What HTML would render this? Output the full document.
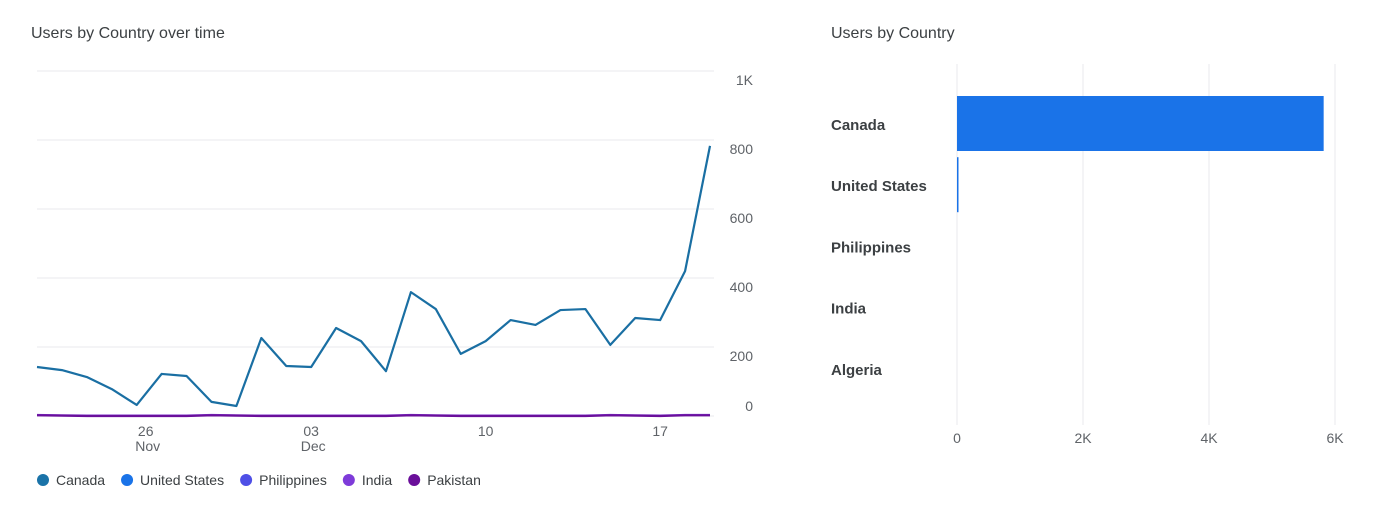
<!DOCTYPE html>
<html><head><meta charset="utf-8"><style>
body{margin:0;width:1384px;height:505px;background:#fff;font-family:"Liberation Sans",Arial,sans-serif;overflow:hidden}
svg{position:absolute;left:0;top:0}
</style></head><body>
<svg id="c" width="1384" height="505"></svg>
<script>
const lineDays=["22","23","24","25","26","27","28","29","30","01","02","03","04","05","06","07","08","09","10","11","12","13","14","15","16","17","18","19"];
const canadaVals=[142,133,113,78,32,122,116,41,29,226,145,142,255,217,130,359,310,180,217,278,264,307,310,206,284,278,420,783];
const usVals=[3,2,1,1,1,1,1,3,2,1,1,1,1,1,1,3,2,1,1,1,1,1,1,3,2,1,3,3];
const yTicks=[0,200,400,600,800,1000];
const yTickLabels=["0","200","400","600","800","1K"];
const xTickIdx=[4,11,18,25];
const xTickLabels=[["26","Nov"],["03","Dec"],["10",""],["17",""]];
const legendNames=["Canada","United States","Philippines","India","Pakistan"];
const legendColors=["#1a73a8","#1a73e8","#4e4fe6","#7e3bd9","#6a0f9a"];
const barCats=["Canada","United States","Philippines","India","Algeria"];
const barVals=[5820,15,0,0,0];
const barTicks=[0,2000,4000,6000];
const barTickLabels=["0","2K","4K","6K"];

const svg=document.getElementById('c');
const NS="http://www.w3.org/2000/svg";
function mk(t,a,p){const e=document.createElementNS(NS,t);for(const k in a)e.setAttribute(k,a[k]);(p||svg).appendChild(e);return e;}
function txt(x,y,s,a){const e=mk('text',Object.assign({x:x,y:y},a));e.textContent=s;return e;}

// Left chart
const X=i=>37+i*(710-37)/(lineDays.length-1);
const Y=v=>416-v*0.345;
let t=txt(31,38,"Users by Country over time",{'font-size':16,fill:'#3c4043'});

yTicks.forEach((v,i)=>{
 const g=mk('line',{x1:37,x2:714,y1:Y(v),y2:Y(v),stroke:'#e8eaed','stroke-width':1});
 
 const l=txt(753,Y(v)+ (v===0?-5:14),yTickLabels[i],{'font-size':14,fill:'#5f6368','text-anchor':'end'});
 
});
xTickIdx.forEach((idx,i)=>{
 const x=X(idx)+(i===0?9:0);
 const a=txt(x,436,xTickLabels[i][0],{'font-size':14,fill:'#5f6368','text-anchor':'middle'});
 
 if(xTickLabels[i][1]){const b=txt(x+2,451,xTickLabels[i][1],{'font-size':14,fill:'#5f6368','text-anchor':'middle'});
 }
});
const mkLine=(vals,col,name)=>{const p=mk('polyline',{points:vals.map((v,i)=>X(i)+','+Y(v)).join(' '),fill:'none',stroke:col,'stroke-width':2.2,'stroke-linejoin':'round'});
 };
mkLine(usVals,'#7e3bd9','india-line');
mkLine(usVals.map(v=>Math.max(0,v-1)),'#6a0f9a','pakistan-line');
mkLine(canadaVals,'#1a6fa3','canada-line');
let lx=37;
legendNames.forEach((n,i)=>{
 const c=mk('circle',{cx:lx+6,cy:480,r:6,fill:legendColors[i]});
 
 const tt=txt(lx+19,485,n,{'font-size':14,fill:'#3c4043'});
 
 lx+=19+tt.getComputedTextLength()+16;
});

// Right chart
const BX=v=>957+v*(1335-957)/6000;
const BY=i=>124+i*61.2;
t=txt(831,38,"Users by Country",{'font-size':16,fill:'#3c4043'});

barTicks.forEach((v,i)=>{
 const g=mk('line',{x1:BX(v),x2:BX(v),y1:64,y2:425,stroke:'#e8eaed','stroke-width':1});
 
 const l=txt(BX(v),443,barTickLabels[i],{'font-size':14,fill:'#5f6368','text-anchor':'middle'});
 
});
barCats.forEach((n,i)=>{
 const l=txt(831,BY(i)+6,n,{'font-size':15,fill:'#3c4043','font-weight':'bold'});
 
 const w=BX(barVals[i])-BX(0);
 if(w>0){const r=mk('rect',{x:BX(0),y:BY(i)-28,width:Math.max(w,1.5),height:55,fill:'#1a73e8'});
 }
});
</script>
</body></html>
